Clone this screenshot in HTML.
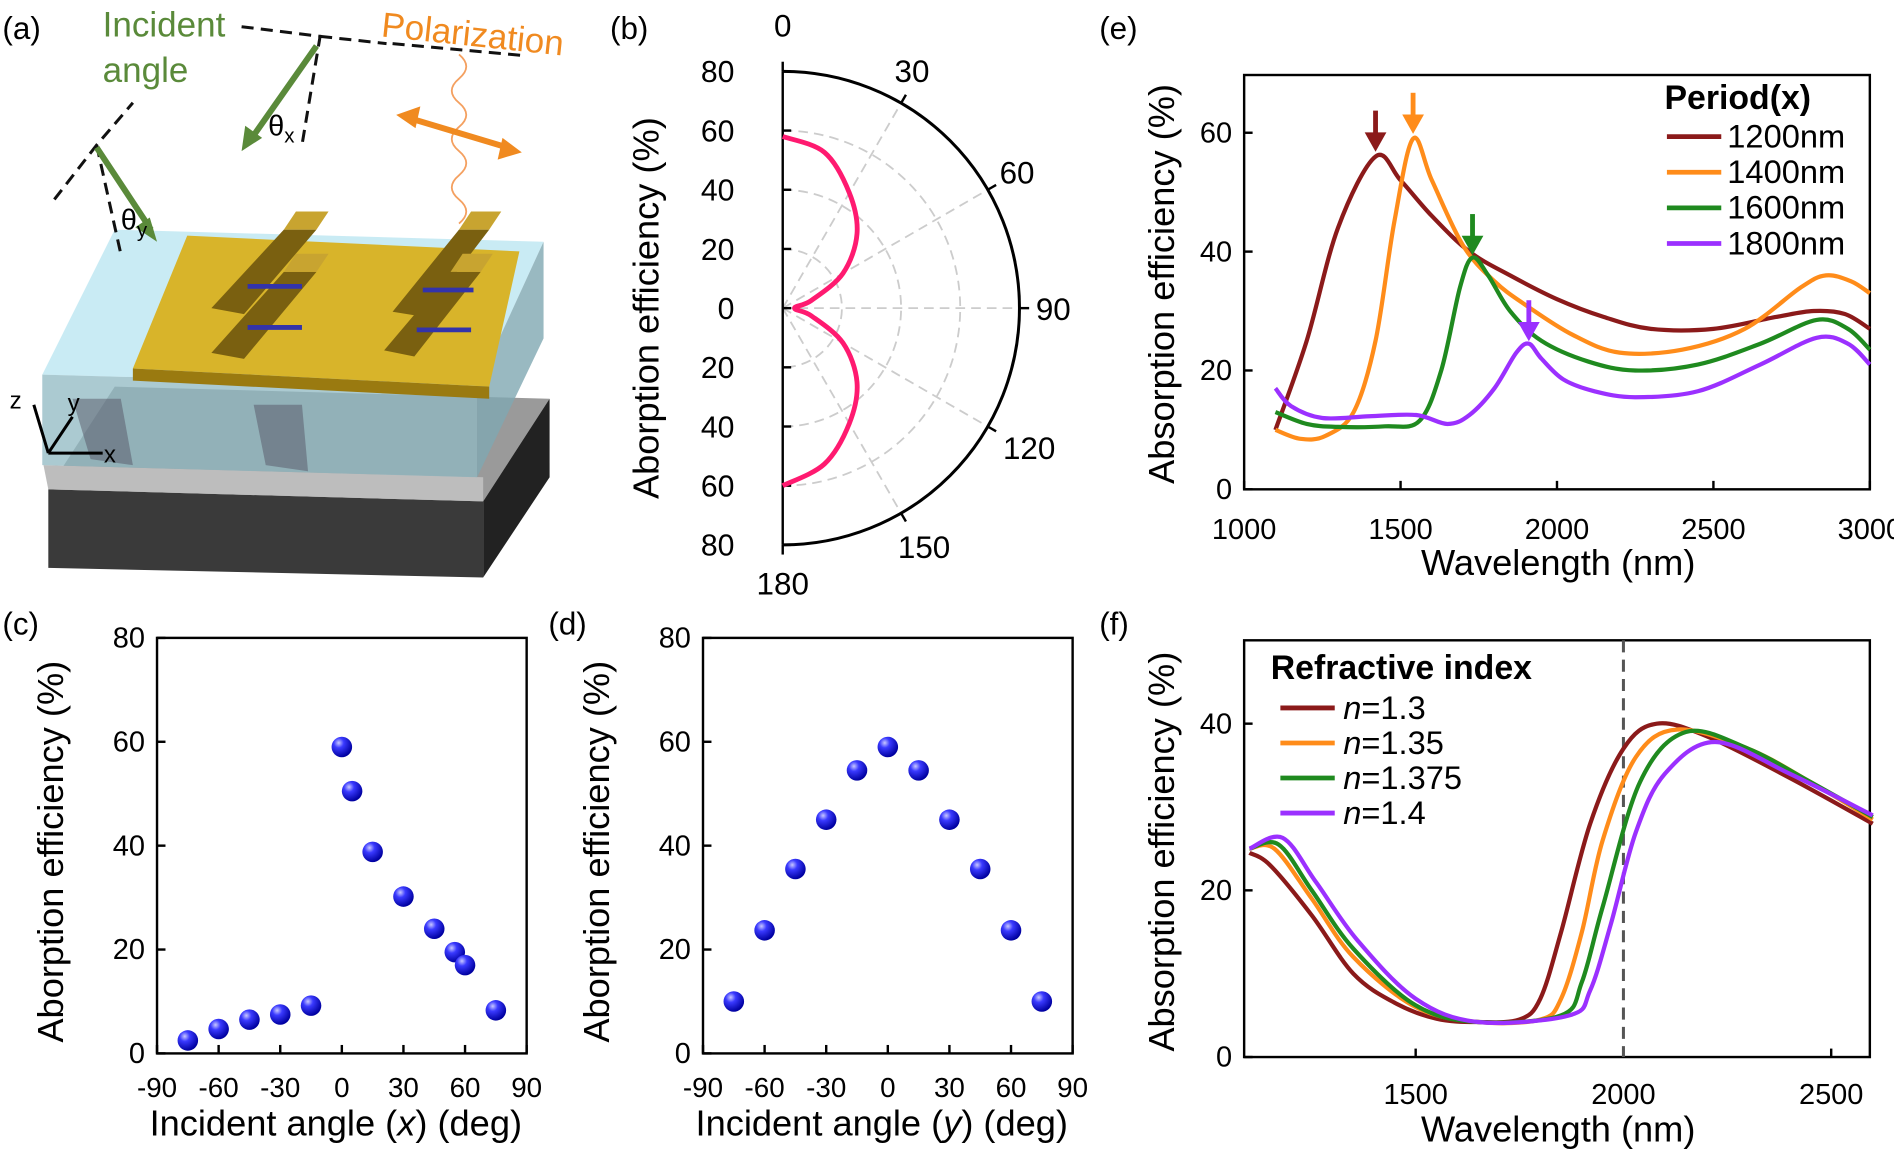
<!DOCTYPE html>
<html><head><meta charset="utf-8">
<style>
html,body{margin:0;padding:0;background:#fff;}
svg{display:block;font-family:"Liberation Sans",Arial,sans-serif;}
</style></head>
<body>
<svg id="s" width="1894" height="1155" viewBox="0 0 1568 956" xmlns="http://www.w3.org/2000/svg">
<rect width="1568" height="956" fill="#fff"/>
<g>
<text x="2" y="32" font-size="26">(a)</text>
<text x="85" y="30" font-size="29" fill="#5a8a3a">Incident</text>
<text x="85" y="68" font-size="29" fill="#5a8a3a">angle</text>
<text x="315" y="30" font-size="29" fill="#f08a20" transform="rotate(6 315 30)">Polarization</text>
<polygon points="40,405 400,415 455,330 95,320" fill="#9a9a9a"/>
<polygon points="40,405 400,415 400,478 40,470" fill="#3a3a3a"/>
<polygon points="400,415 455,330 455,395 400,478" fill="#222"/>
<polygon points="36,385 400,395 400,415 40,405" fill="#bdbdbd"/>
<polygon points="35,310 395,320 450,200 95,190" fill="#bfe8f2" opacity="0.85"/>
<polygon points="35,310 395,320 395,395 35,385" fill="#8fb8c2" opacity="0.75"/>
<polygon points="395,320 450,200 450,280 395,395" fill="#7fa7b2" opacity="0.8"/>
<polygon points="60,330 100,330 110,385 75,380" fill="#556" opacity="0.5"/>
<polygon points="210,335 250,335 255,390 220,385" fill="#556" opacity="0.5"/>
<polygon points="110,305 405,320 430,208 155,195" fill="#d8b42a"/>
<polygon points="110,305 405,320 405,330 110,315" fill="#9a7a10"/>
<g>
<polygon points="175,255 235,190 262,190 202,260" fill="#7a6010"/><polygon points="235,190 245,175 272,175 262,190" fill="#c8a430"/>
<polygon points="175,292 235,225 262,225 202,297" fill="#7a6010"/><polygon points="235,225 245,210 272,210 262,225" fill="#c8a430"/>
<polygon points="325,258 380,190 405,190 350,262" fill="#7a6010"/><polygon points="380,190 390,175 415,175 405,190" fill="#c8a430"/>
<polygon points="318,290 373,225 398,225 343,295" fill="#7a6010"/><polygon points="373,225 383,210 408,210 398,225" fill="#c8a430"/>
</g>
<g stroke="#3333aa" stroke-width="4">
<line x1="205" y1="237" x2="250" y2="237"/><line x1="205" y1="271" x2="250" y2="271"/>
<line x1="350" y1="240" x2="392" y2="240"/><line x1="345" y1="273" x2="390" y2="273"/>
</g>
<g stroke="#111" stroke-width="2.5" stroke-dasharray="10,6" fill="none">
<polyline points="45,165 80,120 110,85"/>
<line x1="80" y1="120" x2="100" y2="210"/>
<polyline points="200,22 265,30 250,120"/>
<line x1="265" y1="30" x2="320" y2="36"/>
<line x1="325" y1="36" x2="435" y2="46"/>
</g>
<line x1="80" y1="122" x2="125" y2="190" stroke="#5a8a3a" stroke-width="5"/>
<polygon points="130,200 112,188 124,180" fill="#5a8a3a"/>
<line x1="262" y1="38" x2="210" y2="112" stroke="#5a8a3a" stroke-width="5"/>
<polygon points="200,125 203,104 217,114" fill="#5a8a3a"/>
<text x="100" y="190" font-size="24">θ<tspan font-size="17" dy="6">y</tspan></text>
<text x="222" y="112" font-size="24">θ<tspan font-size="17" dy="6">x</tspan></text>
<path d="M380,45 q12,10 0,20 q-12,10 0,20 q12,10 0,20 q-12,10 0,20 q12,10 0,20 q-12,10 0,20 q12,10 0,20" stroke="#f4a060" stroke-width="1.5" fill="none"/>
<line x1="340" y1="98" x2="420" y2="122" stroke="#f08a20" stroke-width="5"/>
<polygon points="328,95 348,88 344,106" fill="#f08a20"/>
<polygon points="432,126 412,132 416,114" fill="#f08a20"/>
<g stroke="#000" stroke-width="2.5"><line x1="40" y1="375" x2="85" y2="375"/><line x1="40" y1="375" x2="28" y2="335"/><line x1="40" y1="375" x2="60" y2="345"/></g>
<text x="86" y="383" font-size="20">x</text><text x="8" y="338" font-size="20">z</text><text x="56" y="340" font-size="20">y</text>
</g>
<g id="g"></g>
</svg>
<script>
const g=document.getElementById('g');let h='';
function T(x,y,s,fs,anc,extra){h+=`<text x="${x}" y="${y}" font-size="${fs||22}" text-anchor="${anc||'middle'}" ${extra||''}>${s}</text>`;}
function L(x1,y1,x2,y2,st){h+=`<line x1="${x1}" y1="${y1}" x2="${x2}" y2="${y2}" ${st||'stroke="#000" stroke-width="2"'}/>`;}
function smooth(p){let d=`M${p[0][0]},${p[0][1]}`;for(let i=0;i<p.length-1;i++){const p0=p[i-1]||p[i],p1=p[i],p2=p[i+1],p3=p[i+2]||p2;d+=` C${p1[0]+(p2[0]-p0[0])/6},${p1[1]+(p2[1]-p0[1])/6} ${p2[0]-(p3[0]-p1[0])/6},${p2[1]-(p3[1]-p1[1])/6} ${p2[0]},${p2[1]}`;}return d;}
function P(pts,fx,fy,col,w){h+=`<path d="${smooth(pts.map(q=>[fx(q[0]),fy(q[1])]))}" stroke="${col}" stroke-width="${w||3.5}" fill="none"/>`;}
const dr='#8b1a1a',or='#ff8c1a',gr='#1f8a1f',pu='#9b30ff';
const AF=30;
{const X=v=>1030+(v-1000)*0.259,Y=v=>405-v*4.92;
h+=`<rect x="1030" y="62" width="518" height="343" fill="none" stroke="#000" stroke-width="2"/>`;
for(let v=1000;v<=3000;v+=500){L(X(v),405,X(v),398);T(X(v),446,v,24);}
for(let v=0;v<=60;v+=20){L(1030,Y(v),1037,Y(v));T(1020,Y(v)+8,v,24,'end');}
T(1290,476,'Wavelength (nm)',AF);T(972,235,'Absorption efficiency (%)',AF,'middle','transform="rotate(-90 972 235)"');
T(910,32,'(e)',26,'start');
P([[1100,10],[1200,25],[1300,44],[1420,56],[1500,52],[1600,46],[1720,40],[1850,36],[2000,32],[2150,29],[2300,27],[2500,27],[2700,29],[2820,30],[2920,29.5],[3000,27]],X,Y,dr);
P([[1100,10],[1180,8.5],[1260,9],[1350,13],[1420,25],[1480,45],[1540,59],[1600,52],[1700,41],[1800,35],[1900,31],[2050,26],[2200,23],[2400,23.5],[2600,27],[2780,34],[2860,36],[2940,35],[3000,33]],X,Y,or);
P([[1100,13],[1200,11],[1300,10.5],[1450,10.6],[1560,11.5],[1630,20],[1690,34],[1730,39],[1780,36],[1850,30],[1950,25],[2100,21.5],[2250,20],[2450,21],[2650,24.5],[2830,28.5],[2930,27],[3000,23.5]],X,Y,gr);
P([[1100,17],[1150,14],[1250,12],[1400,12.3],[1550,12.5],[1650,11],[1720,12.5],[1800,17],[1870,23],[1910,24.5],[1950,22],[2020,18.5],[2120,16.5],[2250,15.5],[2450,16.5],[2650,21],[2830,25.5],[2930,24.5],[3000,21]],X,Y,pu);
const arr=(x,y,c)=>{L(x,y-34,x,y-12,`stroke="${c}" stroke-width="4"`);h+=`<polygon points="${x-9},${y-16} ${x+9},${y-16} ${x},${y}" fill="${c}"/>`;};
arr(X(1420),Y(56)-4,dr);arr(X(1540),Y(59)-4,or);arr(X(1730),Y(39)-2,gr);arr(X(1910),Y(24.5)-2,pu);
T(1378,90,'Period(x)',28,'start','font-weight="bold"');
[['1200nm',dr],['1400nm',or],['1600nm',gr],['1800nm',pu]].forEach((q,i)=>{const y=122+i*29.5;L(1380,y-9,1425,y-9,`stroke="${q[1]}" stroke-width="4"`);T(1430,y,q[0],27,'start');});
}
{const X=v=>1344+(v-2000)*0.344,Y=v=>875-v*6.9;
h+=`<rect x="1030" y="530" width="518" height="345" fill="none" stroke="#000" stroke-width="2"/>`;
for(let v=1500;v<=2500;v+=500){L(X(v),875,X(v),868);T(X(v),914,v,24);}
for(let v=0;v<=40;v+=20){L(1030,Y(v),1037,Y(v));T(1020,Y(v)+8,v,24,'end');}
T(1290,945,'Wavelength (nm)',AF);T(972,705,'Absorption efficiency (%)',AF,'middle','transform="rotate(-90 972 705)"');
T(910,525,'(f)',26,'start');
L(X(2000),530,X(2000),875,'stroke="#555" stroke-width="2.5" stroke-dasharray="10,6"');
P([[1100,24.5],[1150,23],[1250,17],[1350,10],[1450,6.5],[1550,4.6],[1650,4.2],[1750,4.5],[1800,7],[1850,15],[1920,28],[2000,37],[2080,40],[2200,38.5],[2400,33.5],[2600,28]],X,Y,dr);
P([[1100,25],[1160,25],[1250,19],[1350,12],[1500,6],[1650,4.2],[1800,4.5],[1850,7],[1900,15],[1950,26],[2030,36],[2130,39.3],[2300,37],[2450,33],[2600,28.5]],X,Y,or);
P([[1100,25],[1170,25.5],[1250,20],[1350,13],[1500,6.2],[1650,4.2],[1850,5],[1900,9],[1950,18],[2040,33],[2150,39],[2300,37],[2450,33],[2600,28.8]],X,Y,gr);
P([[1100,25],[1180,26.3],[1260,21],[1360,14],[1500,7],[1650,4.2],[1870,5],[1920,8],[1970,16],[2030,27],[2100,34],[2220,37.8],[2400,34],[2600,29]],X,Y,pu);
T(1052,562,'Refractive index',28,'start','font-weight="bold"');
[['1.3',dr],['1.35',or],['1.375',gr],['1.4',pu]].forEach((q,i)=>{const y=595+i*29;L(1060,y-9,1105,y-9,`stroke="${q[1]}" stroke-width="4"`);T(1112,y,'<tspan font-style="italic">n</tspan>='+q[0],27,'start');});
}
h+=`<defs><radialGradient id="bl" cx="0.35" cy="0.3" r="0.7"><stop offset="0" stop-color="#c8c8ff"/><stop offset="0.35" stop-color="#3a3aff"/><stop offset="1" stop-color="#0000a0"/></radialGradient></defs>`;
function scat(x0,lab,pts,tag){const X=v=>x0+(v+90)*1.7,Y=v=>872-v*4.3;
h+=`<rect x="${x0}" y="528" width="306" height="344" fill="none" stroke="#000" stroke-width="2"/>`;
for(let v=-90;v<=90;v+=30){L(X(v),872,X(v),865);T(X(v),908,v,23);}
for(let v=0;v<=80;v+=20){L(x0,Y(v),x0+7,Y(v));T(x0-10,Y(v)+8,v,24,'end');}
T(x0+148,940,lab,AF);T(x0-78,705,'Aborption efficiency (%)',AF,'middle',`transform="rotate(-90 ${x0-78} 705)"`);
T(x0-128,525,tag,26,'start');
pts.forEach(q=>h+=`<circle cx="${X(q[0])}" cy="${Y(q[1])}" r="8.5" fill="url(#bl)"/>`);}
scat(130,'Incident angle (<tspan font-style="italic">x</tspan>) (deg)',[[-75,2.5],[-60,4.7],[-45,6.5],[-30,7.5],[-15,9.2],[0,59],[5,50.5],[15,38.8],[30,30.2],[45,24],[55,19.5],[60,17],[75,8.3]],'(c)');
scat(582,'Incident angle (<tspan font-style="italic">y</tspan>) (deg)',[[-75,10],[-60,23.7],[-45,35.5],[-30,45],[-15,54.5],[0,59],[15,54.5],[30,45],[45,35.5],[60,23.7],[75,10]],'(d)');
{const cx=648,cy=255,R=196,k=R/80;
T(505,32,'(b)',26,'start');
for(let r=20;r<=60;r+=20)h+=`<path d="M${cx},${cy-r*k} A${r*k},${r*k} 0 0 1 ${cx},${cy+r*k}" fill="none" stroke="#ccc" stroke-width="1.5" stroke-dasharray="8,5"/>`;
for(let a=30;a<180;a+=30){const t=a*Math.PI/180;L(cx,cy,cx+R*Math.sin(t),cy-R*Math.cos(t),'stroke="#ccc" stroke-width="1.5" stroke-dasharray="8,5"');}
h+=`<path d="M${cx},${cy-R} A${R},${R} 0 0 1 ${cx},${cy+R}" fill="none" stroke="#000" stroke-width="2.5"/>`;
L(cx,cy-R,cx,cy+R);
for(let a=0;a<=180;a+=30){const t=a*Math.PI/180;L(cx+R*Math.sin(t),cy-R*Math.cos(t),cx+(R+8)*Math.sin(t),cy-(R+8)*Math.cos(t));}
[[0,648,30],[30,755,68],[60,842,152],[90,872,265],[120,852,380],[150,765,462],[180,648,492]].forEach(q=>T(q[1],q[2],q[0],26));
[80,60,40,20,0,20,40,60,80].forEach((v,i)=>{const y=cy-R+i*R/4;L(cx,y,cx+7,y);T(cx-40,y+9,v,25,'end');});
T(545,255,'Aborption efficiency (%)',AF,'middle','transform="rotate(-90 545 255)"');
const vals=[[0,58],[15,54.5],[30,45],[45,35.5],[60,23.5],[75,10],[90,4]];
const full=vals.concat(vals.slice(0,-1).reverse().map(q=>[180-q[0],q[1]+(q[0]==0?2:0)]));
const pts=full.map(q=>{const t=q[0]*Math.PI/180;return [cx+q[1]*k*Math.sin(t),cy-q[1]*k*Math.cos(t)];});
h+=`<path d="${smooth(pts)}" stroke="#ff1a70" stroke-width="4" fill="none"/>`;}
g.innerHTML=h;
</script>
</body></html>
